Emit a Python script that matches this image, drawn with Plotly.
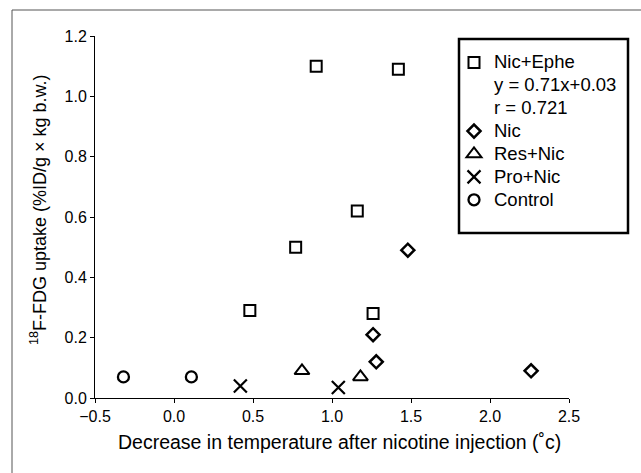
import plotly.graph_objects as go

# ---- data ----
nic_ephe_x = [0.48, 0.77, 0.90, 1.16, 1.26, 1.42]
nic_ephe_y = [0.29, 0.50, 1.10, 0.62, 0.28, 1.09]
nic_x = [1.26, 1.28, 1.48, 2.26]
nic_y = [0.21, 0.12, 0.49, 0.09]
res_nic_x = [0.81, 1.18]
res_nic_y = [0.09, 0.07]
pro_nic_x = [0.42, 1.04]
pro_nic_y = [0.04, 0.035]
control_x = [-0.32, 0.11]
control_y = [0.07, 0.07]

x_ticks = [-0.5, 0.0, 0.5, 1.0, 1.5, 2.0, 2.5]
y_ticks = [0.0, 0.2, 0.4, 0.6, 0.8, 1.0, 1.2]

W, H = 641, 473
ML, MR, MT, MB = 95, 72, 36, 75
PW, PH = W - ML - MR, H - MT - MB

def px(xp):
    return (xp - ML) / PW

def py(yp):
    return (H - MB - yp) / PH

FONT = "Liberation Sans, Arial, sans-serif"

def big(s):
    return '<span style="font-size:18.5px">' + s + '</span>'

fig = go.Figure()

def add(name, xs, ys, symbol, size, lw):
    fig.add_trace(go.Scatter(
        x=xs, y=ys, mode="markers", name=big(name),
        marker=dict(symbol=symbol, size=size, color="black",
                    line=dict(color="black", width=lw)),
    ))

add("Nic+Ephe", nic_ephe_x, nic_ephe_y, "square-open", 11, 2)
# extra legend lines (no marker)
for label in ["y = 0.71x+0.03", "r = 0.721"]:
    fig.add_trace(go.Scatter(x=[None], y=[None], mode="markers", name=big(label),
                             marker=dict(size=1, color="rgba(0,0,0,0)")))
add("Nic", nic_x, nic_y, "diamond-open", 10, 2.5)
add("Res+Nic", res_nic_x, res_nic_y, "triangle-up-open", 13, 2)
add("Pro+Nic", pro_nic_x, pro_nic_y, "x-thin-open", 13, 2.2)
add("Control", control_x, control_y, "circle-open", 11, 2.3)

axis_common = dict(
    showgrid=False, zeroline=False, showline=True, linecolor="black",
    linewidth=1, ticks="outside", ticklen=4, tickwidth=1, tickcolor="black",
    tickfont=dict(family=FONT, size=16, color="black"), tickformat=".1f",
)

fig.update_layout(
    width=W, height=H,
    margin=dict(l=ML, r=MR, t=MT, b=MB, pad=0),
    paper_bgcolor="white", plot_bgcolor="white",
    font=dict(family=FONT, color="black"),
    xaxis=dict(range=[-0.5, 2.5], tickvals=x_ticks, **axis_common),
    yaxis=dict(range=[0, 1.2], tickvals=y_ticks, **axis_common),
    showlegend=True,
    legend=dict(
        x=px(454), y=py(46), xanchor="left", yanchor="top",
        bgcolor="rgba(0,0,0,0)", borderwidth=0,
        font=dict(family=FONT, size=15.3, color="black"),
        itemsizing="trace",
    ),
    shapes=[
        # outer frame
        dict(type="rect", xref="paper", yref="paper",
             x0=px(12), x1=px(W + 20), y0=py(H + 20), y1=py(10),
             line=dict(color="#555555", width=1)),
        # legend box
        dict(type="rect", xref="paper", yref="paper",
             x0=px(459), x1=px(628), y0=py(233), y1=py(39),
             line=dict(color="black", width=2.5)),
    ],
    annotations=[
        dict(text="Decrease in temperature after nicotine injection (˚c)",
             xref="paper", yref="paper", x=px(339), y=py(442),
             xanchor="center", yanchor="middle", showarrow=False,
             font=dict(family=FONT, size=19.5, color="black")),
        dict(text="<sup>18</sup>F-FDG uptake (%ID/g × kg b.w.)",
             xref="paper", yref="paper", x=px(38), y=py(210),
             xanchor="center", yanchor="middle", showarrow=False,
             textangle=-90,
             font=dict(family=FONT, size=18, color="black")),
    ],
)

fig.write_html("out.html")
